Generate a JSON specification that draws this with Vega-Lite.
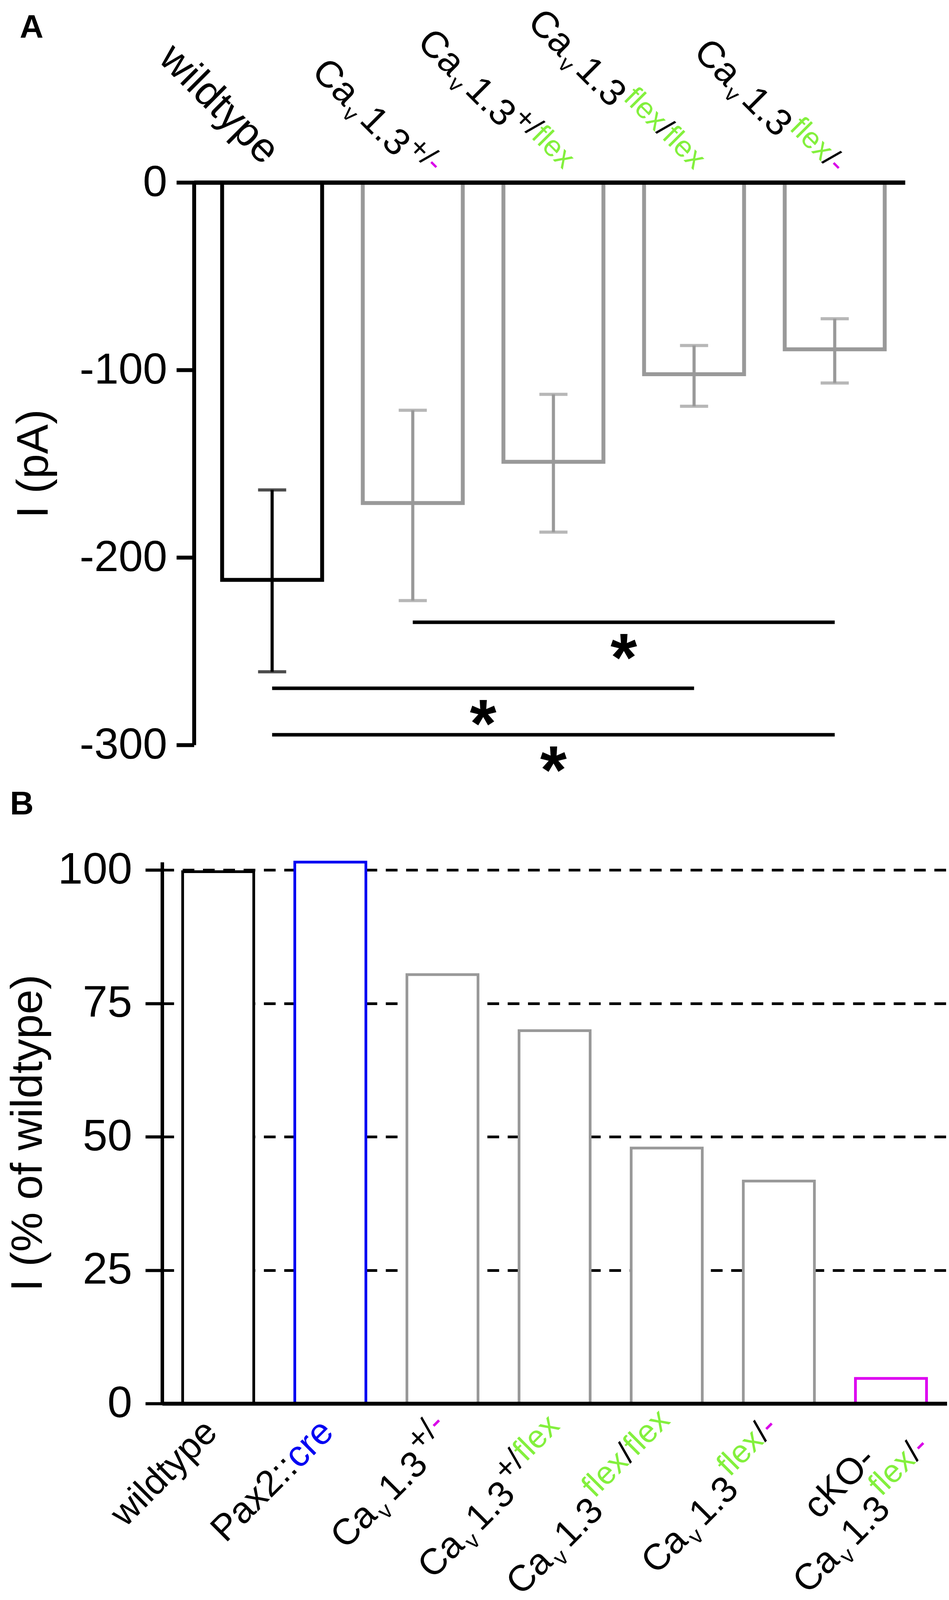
{
  "$schema": "https://vega.github.io/schema/vega-lite/v6.json",
  "background": "white",
  "padding": {"left": 15, "top": 6, "right": 0, "bottom": 0},
  "bounds": "flush",
  "spacing": 300,
  "resolve": {"scale": {"stroke": "independent", "color": "independent"}},
  "config": {
    "font": "Liberation Sans",
    "view": {"stroke": null},
    "text": {"baseline": "alphabetic", "color": "black"},
    "axis": {"domainColor": "black", "tickColor": "black", "labelColor": "black", "titleColor": "black", "titleFontWeight": "normal", "grid": false, "labelLimit": 0, "titleLimit": 0, "maxExtent": 1000},
    "title": {"fontWeight": "bold", "color": "black", "anchor": "start", "frame": "group", "baseline": "alphabetic"},
    "style": {
      "la": {"angle": 45, "fontSize": 96},
      "laSub": {"angle": 45, "fontSize": 58},
      "laSup": {"angle": 45, "fontSize": 76},
      "lb": {"angle": -45, "fontSize": 94},
      "lbSub": {"angle": -45, "fontSize": 58},
      "lbSup": {"angle": -45, "fontSize": 82}
    }
  },
  "datasets": {
    "currents": [
      {"genotype": "wildtype", "mean": -212, "lo": -261, "hi": -164},
      {"genotype": "Cav1.3+/-", "mean": -171, "lo": -223, "hi": -121.5},
      {"genotype": "Cav1.3+/flex", "mean": -149, "lo": -186.5, "hi": -113},
      {"genotype": "Cav1.3flex/flex", "mean": -102.3, "lo": -119.4, "hi": -87},
      {"genotype": "Cav1.3flex/-", "mean": -89, "lo": -107, "hi": -72.7}
    ],
    "sig": [
      {"from": "Cav1.3+/-", "to": "Cav1.3flex/-", "y": -234.6, "mid": "Cav1.3+/flex"},
      {"from": "wildtype", "to": "Cav1.3flex/flex", "y": -269.8, "mid": "Cav1.3+/-"},
      {"from": "wildtype", "to": "Cav1.3flex/-", "y": -294.6, "mid": "Cav1.3+/flex"}
    ],
    "normalized": [
      {"genotype": "wildtype", "pct": 99.7},
      {"genotype": "Pax2::cre", "pct": 101.5},
      {"genotype": "Cav1.3+/-", "pct": 80.4},
      {"genotype": "Cav1.3+/flex", "pct": 69.9},
      {"genotype": "Cav1.3flex/flex", "pct": 47.9},
      {"genotype": "Cav1.3flex/-", "pct": 41.7},
      {"genotype": "cKO-Cav1.3flex/-", "pct": 4.7}
    ]
  },
  "vconcat": [
    {
      "title": {"text": "A", "fontSize": 84, "dx": -364.5, "offset": -108},
      "width": 1901.5,
      "height": 1440,
      "data": {"name": "currents"},
      "encoding": {
        "x": {
          "field": "genotype", "type": "nominal",
          "scale": {"domain": ["wildtype", "Cav1.3+/-", "Cav1.3+/flex", "Cav1.3flex/flex", "Cav1.3flex/-"], "paddingInner": 0, "paddingOuter": 0.0278, "align": 1, "rangeMin": 81.5},
          "axis": {"orient": "top", "title": null, "labels": false, "ticks": false, "domainWidth": 11, "zindex": 1}
        }
      },
      "layer": [
        {
          "mark": {"type": "bar", "fill": "white", "strokeWidth": 10, "width": {"band": 0.711}},
          "encoding": {
            "y": {
              "field": "mean", "type": "quantitative", "title": "I (pA)",
              "scale": {"domain": [-300, 0], "nice": false},
              "axis": {"values": [0, -100, -200, -300], "offset": -81.5, "domainWidth": 10, "tickWidth": 10, "tickSize": 45, "labelFontSize": 112, "labelPadding": 24, "labelExpr": "replace(datum.label, '−', '-')", "titleFontSize": 114, "titlePadding": 58}
            },
            "stroke": {"field": "genotype", "type": "nominal", "legend": null,
              "scale": {"domain": ["wildtype", "Cav1.3+/-", "Cav1.3+/flex", "Cav1.3flex/flex", "Cav1.3flex/-"], "range": ["black", "#999999", "#999999", "#999999", "#999999"]}}
          }
        },
        {
          "mark": {"type": "rule", "strokeWidth": 8},
          "encoding": {
            "y": {"field": "lo", "type": "quantitative", "title": "I (pA)"},
            "y2": {"field": "hi"},
            "color": {"field": "genotype", "type": "nominal", "legend": null,
              "scale": {"domain": ["wildtype", "Cav1.3+/-", "Cav1.3+/flex", "Cav1.3flex/flex", "Cav1.3flex/-"], "range": ["black", "#999999", "#999999", "#999999", "#999999"]}}
          }
        },
        {
          "mark": {"type": "tick", "size": 72, "thickness": 8},
          "encoding": {
            "y": {"field": "lo", "type": "quantitative", "title": "I (pA)"},
            "color": {"field": "genotype", "type": "nominal", "legend": null}
          }
        },
        {
          "mark": {"type": "tick", "size": 72, "thickness": 8},
          "encoding": {
            "y": {"field": "hi", "type": "quantitative", "title": "I (pA)"},
            "color": {"field": "genotype", "type": "nominal", "legend": null}
          }
        },
        {
          "data": {"name": "sig"},
          "mark": {"type": "rule", "strokeWidth": 9, "color": "black"},
          "encoding": {
            "x": {"field": "from", "type": "nominal", "bandPosition": 0.5},
            "x2": {"field": "to", "bandPosition": 0.5},
            "y": {"field": "y", "type": "quantitative", "title": "I (pA)"}
          }
        },
        {
          "data": {"name": "sig"},
          "transform": [{"filter": "datum.from == 'wildtype' && datum.to == 'Cav1.3flex/-'"}],
          "mark": {"type": "text", "text": "*", "fontSize": 175, "fontWeight": "bold", "dy": 150},
          "encoding": {
            "x": {"field": "mid", "type": "nominal", "bandPosition": 0.5},
            "y": {"field": "y", "type": "quantitative", "title": "I (pA)"}
          }
        },
        {
          "data": {"name": "sig"},
          "transform": [{"filter": "!(datum.from == 'wildtype' && datum.to == 'Cav1.3flex/-')"}],
          "mark": {"type": "text", "text": "*", "fontSize": 175, "fontWeight": "bold", "dy": 150},
          "encoding": {
            "x": {"field": "mid", "type": "nominal", "bandPosition": 1},
            "y": {"field": "y", "type": "quantitative", "title": "I (pA)"}
          }
        },
        {
          "encoding": {"y": {"datum": 0}},
          "layer": [
            {"transform": [{"filter": "datum.genotype == 'wildtype'"}],
             "mark": {"type": "text", "style": "la", "fontSize": 106, "align": "right", "dx": -46, "dy": -13, "text": "wildtype"}},
            {"transform": [{"filter": "datum.genotype == 'Cav1.3+/-'"}],
             "layer": [
               {"mark": {"type": "text", "style": "la", "align": "right", "dx": -260, "dy": -12, "text": "Ca"}},
               {"mark": {"type": "text", "style": "laSub", "align": "left", "dx": -252, "dy": 8, "text": "v"}},
               {"mark": {"type": "text", "style": "la", "align": "right", "dx": -76, "dy": -12, "text": "1.3"}},
               {"mark": {"type": "text", "style": "laSup", "align": "left", "dx": -72, "dy": -50, "text": "+/"}},
               {"mark": {"type": "text", "style": "laSup", "align": "left", "dx": -7, "dy": -50, "text": "-", "color": "#D900E8"}}
             ]},
            {"transform": [{"filter": "datum.genotype == 'Cav1.3+/flex'"}],
             "layer": [
               {"mark": {"type": "text", "style": "la", "align": "right", "dx": -377, "dy": -2, "text": "Ca"}},
               {"mark": {"type": "text", "style": "laSub", "align": "left", "dx": -369, "dy": 18, "text": "v"}},
               {"mark": {"type": "text", "style": "la", "align": "right", "dx": -193, "dy": -2, "text": "1.3"}},
               {"mark": {"type": "text", "style": "laSup", "align": "left", "dx": -189, "dy": -40, "text": "+/"}},
               {"mark": {"type": "text", "style": "laSup", "align": "left", "dx": -123.5, "dy": -40, "text": "flex", "color": "#83F03D"}}
             ]},
            {"transform": [{"filter": "datum.genotype == 'Cav1.3flex/flex'"}],
             "layer": [
               {"mark": {"type": "text", "style": "la", "align": "right", "dx": -468, "dy": 17, "text": "Ca"}},
               {"mark": {"type": "text", "style": "laSub", "align": "left", "dx": -460, "dy": 37, "text": "v"}},
               {"mark": {"type": "text", "style": "la", "align": "right", "dx": -284, "dy": 17, "text": "1.3"}},
               {"mark": {"type": "text", "style": "laSup", "align": "left", "dx": -280, "dy": -21, "text": "flex", "color": "#83F03D"}},
               {"mark": {"type": "text", "style": "laSup", "align": "left", "dx": -161.7, "dy": -21, "text": "/"}},
               {"mark": {"type": "text", "style": "laSup", "align": "left", "dx": -140.6, "dy": -21, "text": "flex", "color": "#83F03D"}}
             ]},
            {"transform": [{"filter": "datum.genotype == 'Cav1.3flex/-'"}],
             "layer": [
               {"mark": {"type": "text", "style": "la", "align": "right", "dx": -368, "dy": 25, "text": "Ca"}},
               {"mark": {"type": "text", "style": "laSub", "align": "left", "dx": -360, "dy": 45, "text": "v"}},
               {"mark": {"type": "text", "style": "la", "align": "right", "dx": -184, "dy": 25, "text": "1.3"}},
               {"mark": {"type": "text", "style": "laSup", "align": "left", "dx": -180, "dy": -13, "text": "flex", "color": "#83F03D"}},
               {"mark": {"type": "text", "style": "laSup", "align": "left", "dx": -61.7, "dy": -13, "text": "/"}},
               {"mark": {"type": "text", "style": "laSup", "align": "left", "dx": -40.6, "dy": -13, "text": "-", "color": "#D900E8"}}
             ]}
          ]
        }
      ]
    },
    {
      "title": {"text": "B", "fontSize": 84, "dx": -389.5, "offset": 67},
      "width": 2009,
      "height": 1386,
      "data": {"name": "normalized"},
      "encoding": {
        "x": {
          "field": "genotype", "type": "nominal",
          "scale": {"domain": ["wildtype", "Pax2::cre", "Cav1.3+/-", "Cav1.3+/flex", "Cav1.3flex/flex", "Cav1.3flex/-", "cKO-Cav1.3flex/-"], "paddingInner": 0, "paddingOuter": 0},
          "axis": {"orient": "bottom", "title": null, "labels": false, "ticks": false, "domainWidth": 10, "zindex": 1}
        }
      },
      "layer": [
        {
          "mark": {"type": "bar", "fill": "white", "strokeWidth": 7, "width": {"band": 0.634}},
          "encoding": {
            "y": {
              "field": "pct", "type": "quantitative", "title": "I (% of wildtype)",
              "scale": {"domain": [0, 101.5], "nice": false},
              "axis": {"values": [0, 25, 50, 75, 100], "grid": true, "gridDash": [30, 22], "gridWidth": 7, "gridColor": "black", "domainWidth": 9, "tickWidth": 8, "tickSize": 43, "labelFontSize": 114, "labelPadding": 34, "titleFontSize": 114, "titlePadding": 17, "zindex": 0}
            },
            "stroke": {"field": "genotype", "type": "nominal", "legend": null,
              "scale": {"domain": ["wildtype", "Pax2::cre", "Cav1.3+/-", "Cav1.3+/flex", "Cav1.3flex/flex", "Cav1.3flex/-", "cKO-Cav1.3flex/-"], "range": ["black", "#0000F2", "#999999", "#999999", "#999999", "#999999", "#DD00F0"]}}
          }
        },
        {
          "encoding": {"y": {"datum": 0}},
          "layer": [
            {"transform": [{"filter": "datum.genotype == 'wildtype'"}],
             "mark": {"type": "text", "style": "lb", "align": "right", "dx": -54, "dy": 57, "text": "wildtype"}},
            {"transform": [{"filter": "datum.genotype == 'Pax2::cre'"}],
             "layer": [
               {"mark": {"type": "text", "style": "lb", "align": "right", "dx": -176.6, "dy": 64, "text": "Pax2::"}},
               {"mark": {"type": "text", "style": "lb", "align": "right", "dx": -46, "dy": 64, "text": "cre", "color": "#0000F2"}}
             ]},
            {"transform": [{"filter": "datum.genotype == 'Cav1.3+/-'"}],
             "layer": [
               {"mark": {"type": "text", "style": "lb", "align": "right", "dx": -321, "dy": 90, "text": "Ca"}},
               {"mark": {"type": "text", "style": "lbSub", "align": "left", "dx": -313, "dy": 110, "text": "v"}},
               {"mark": {"type": "text", "style": "lb", "align": "right", "dx": -137, "dy": 90, "text": "1.3"}},
               {"mark": {"type": "text", "style": "lbSup", "align": "left", "dx": -131, "dy": 46, "text": "+/"}},
               {"mark": {"type": "text", "style": "lbSup", "align": "left", "dx": -60.3, "dy": 46, "text": "-", "color": "#D900E8"}}
             ]},
            {"transform": [{"filter": "datum.genotype == 'Cav1.3+/flex'"}],
             "layer": [
               {"mark": {"type": "text", "style": "lb", "align": "right", "dx": -420, "dy": 99, "text": "Ca"}},
               {"mark": {"type": "text", "style": "lbSub", "align": "left", "dx": -412, "dy": 119, "text": "v"}},
               {"mark": {"type": "text", "style": "lb", "align": "right", "dx": -236, "dy": 99, "text": "1.3"}},
               {"mark": {"type": "text", "style": "lbSup", "align": "left", "dx": -230, "dy": 55, "text": "+/"}},
               {"mark": {"type": "text", "style": "lbSup", "align": "left", "dx": -159.3, "dy": 55, "text": "flex", "color": "#83F03D"}}
             ]},
            {"transform": [{"filter": "datum.genotype == 'Cav1.3flex/flex'"}],
             "layer": [
               {"mark": {"type": "text", "style": "lb", "align": "right", "dx": -493, "dy": 86, "text": "Ca"}},
               {"mark": {"type": "text", "style": "lbSub", "align": "left", "dx": -485, "dy": 106, "text": "v"}},
               {"mark": {"type": "text", "style": "lb", "align": "right", "dx": -309, "dy": 86, "text": "1.3"}},
               {"mark": {"type": "text", "style": "lbSup", "align": "left", "dx": -303, "dy": 42, "text": "flex", "color": "#83F03D"}},
               {"mark": {"type": "text", "style": "lbSup", "align": "left", "dx": -175.4, "dy": 42, "text": "/"}},
               {"mark": {"type": "text", "style": "lbSup", "align": "left", "dx": -152.6, "dy": 42, "text": "flex", "color": "#83F03D"}}
             ]},
            {"transform": [{"filter": "datum.genotype == 'Cav1.3flex/-'"}],
             "layer": [
               {"mark": {"type": "text", "style": "lb", "align": "right", "dx": -413, "dy": 89, "text": "Ca"}},
               {"mark": {"type": "text", "style": "lbSub", "align": "left", "dx": -405, "dy": 109, "text": "v"}},
               {"mark": {"type": "text", "style": "lb", "align": "right", "dx": -229, "dy": 89, "text": "1.3"}},
               {"mark": {"type": "text", "style": "lbSup", "align": "left", "dx": -223, "dy": 45, "text": "flex", "color": "#83F03D"}},
               {"mark": {"type": "text", "style": "lbSup", "align": "left", "dx": -95.4, "dy": 45, "text": "/"}},
               {"mark": {"type": "text", "style": "lbSup", "align": "left", "dx": -72.6, "dy": 45, "text": "-", "color": "#D900E8"}}
             ]},
            {"transform": [{"filter": "datum.genotype == 'cKO-Cav1.3flex/-'"}],
             "layer": [
               {"mark": {"type": "text", "style": "lb", "align": "right", "dx": -129, "dy": 80, "text": "cKO-"}},
               {"mark": {"type": "text", "style": "lb", "align": "right", "dx": -377, "dy": 196, "text": "Ca"}},
               {"mark": {"type": "text", "style": "lbSub", "align": "left", "dx": -369, "dy": 216, "text": "v"}},
               {"mark": {"type": "text", "style": "lb", "align": "right", "dx": -193, "dy": 196, "text": "1.3"}},
               {"mark": {"type": "text", "style": "lbSup", "align": "left", "dx": -187, "dy": 152, "text": "flex", "color": "#83F03D"}},
               {"mark": {"type": "text", "style": "lbSup", "align": "left", "dx": -59.4, "dy": 152, "text": "/"}},
               {"mark": {"type": "text", "style": "lbSup", "align": "left", "dx": -36.6, "dy": 152, "text": "-", "color": "#D900E8"}}
             ]}
          ]
        }
      ]
    }
  ]
}
